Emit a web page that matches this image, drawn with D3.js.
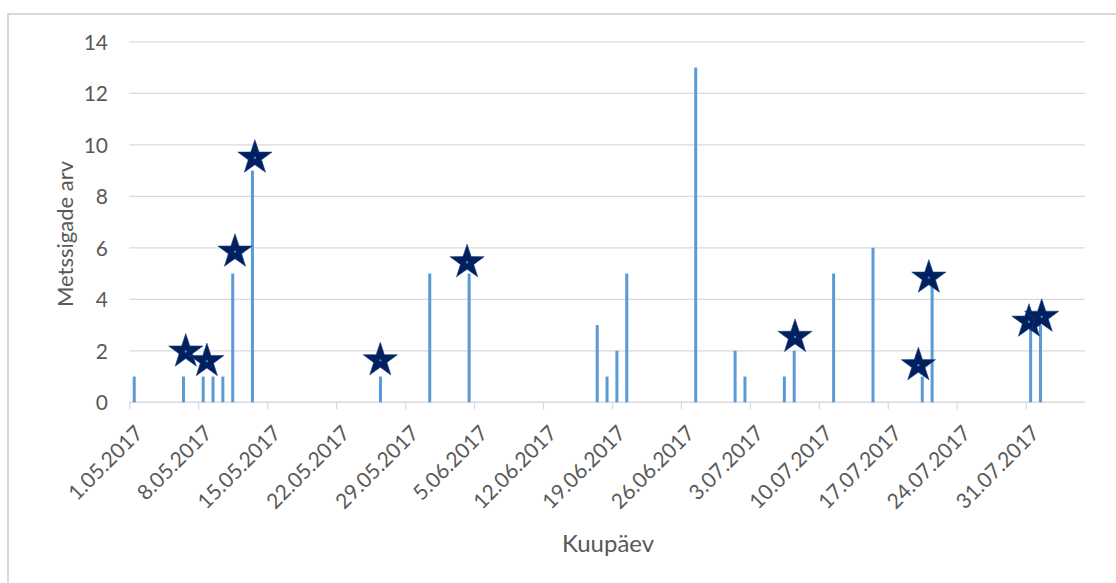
<!DOCTYPE html>
<html>
<head>
<meta charset="utf-8">
<script src="https://cdn.jsdelivr.net/npm/d3@7"></script>
<style>
  html, body { margin: 0; padding: 0; background: #fff; }
  svg { display: block; }
  text { font-family: Lato, "Open Sans", sans-serif; fill: #595959; }
</style>
</head>
<body>
<svg id="chart" width="1116" height="583"></svg>
<script>
// ---- data ----
const barDates = ["2017-05-01","2017-05-06","2017-05-08","2017-05-09","2017-05-10","2017-05-11","2017-05-13",
  "2017-05-26","2017-05-31","2017-06-04","2017-06-17","2017-06-18","2017-06-19","2017-06-20","2017-06-27",
  "2017-07-01","2017-07-02","2017-07-06","2017-07-07","2017-07-11","2017-07-15","2017-07-20","2017-07-21",
  "2017-07-31","2017-08-01"];
const barValues = [1,1,1,1,1,5,9,1,5,5,3,1,2,5,13,2,1,1,2,5,6,1,5,3,3];

const starTimes = ["2017-05-06T17:30","2017-05-08T21:00","2017-05-11T17:30","2017-05-13T18:00","2017-05-26T11:30",
  "2017-06-04T07:00","2017-07-07T14:00","2017-07-20T02:30","2017-07-21T04:00","2017-07-31T08:00","2017-08-01T15:00"];
const starValues = [1.97,1.6,5.85,9.5,1.63,5.44,2.54,1.44,4.84,3.13,3.32];

const tickDates = ["2017-05-01","2017-05-08","2017-05-15","2017-05-22","2017-05-29","2017-06-05","2017-06-12",
  "2017-06-19","2017-06-26","2017-07-03","2017-07-10","2017-07-17","2017-07-24","2017-07-31"];
const yTicks = [0,2,4,6,8,10,12,14];
const xDomain = ["2017-05-01","2017-08-06"];
const xTitle = "Kuupäev";
const yTitle = "Metssigade arv";

// ---- drawing ----
const parseDay = d3.timeParse("%Y-%m-%d");
const parseTime = d3.timeParse("%Y-%m-%dT%H:%M");
const fmt = d3.timeFormat("%-d.%m.%Y");

const svg = d3.select("#chart");
const pLeft = 129.3, pRight = 1084.8, pTop = 41.8, pBottom = 402.3;

const x = d3.scaleTime().domain(xDomain.map(parseDay)).range([pLeft, pRight]);
const y = d3.scaleLinear().domain([0, 14]).range([pBottom, pTop]);

// outer chart border
svg.append("rect").attr("x", 8).attr("y", 14).attr("width", 1200).attr("height", 700)
  .attr("fill", "none").attr("stroke", "#d9d9d9").attr("stroke-width", 2);

// gridlines
svg.append("g").selectAll("line").data(yTicks.filter(v => v > 0)).join("line")
  .attr("x1", pLeft).attr("x2", pRight)
  .attr("y1", d => y(d)).attr("y2", d => y(d))
  .attr("stroke", "#d9d9d9").attr("stroke-width", 1.2);

// y axis labels
const yAxis = d3.axisLeft(y).tickValues(yTicks).tickSize(0).tickPadding(0);
const gy = svg.append("g").attr("transform", "translate(108,0)").call(yAxis);
gy.select(".domain").remove();
gy.selectAll("text").attr("fill", "#595959").style("font-size", "21px").style("font-family", "Lato, sans-serif").attr("dy", "0.35em");

// x axis
const ticks = tickDates.map(parseDay);
const xAxis = d3.axisBottom(x).tickValues(ticks).tickSize(7).tickFormat("");
const gx = svg.append("g").attr("transform", `translate(0,${pBottom})`).call(xAxis);
gx.select(".domain").attr("stroke", "#d9d9d9").attr("stroke-width", 1.5).attr("d", `M${pLeft},0H${pRight}`);
gx.selectAll(".tick line").attr("stroke", "#d9d9d9").attr("stroke-width", 1.2);

svg.append("g").selectAll("text").data(ticks).join("text")
  .attr("transform", d => `translate(${x(d) + 15},${pBottom + 32}) rotate(-45)`)
  .attr("text-anchor", "end")
  .style("font-size", "21px")
  .text(d => fmt(d));

// bars
const bars = barDates.map((d, i) => ({ date: parseDay(d), value: barValues[i] }));
const bw = 3;
svg.append("g").selectAll("rect").data(bars).join("rect")
  .attr("x", d => x(d3.timeHour.offset(d.date, 12)) - bw / 2)
  .attr("width", bw)
  .attr("y", d => y(d.value))
  .attr("height", d => y(0) - y(d.value))
  .attr("fill", "#5b9bd5");

// stars
const stars = starTimes.map((d, i) => ({ date: parseTime(d), value: starValues[i] }));
const R = 18, r = 7;
const starPts = d3.range(10).map(i => {
  const a = -Math.PI / 2 + i * Math.PI / 5;
  const rr = i % 2 === 0 ? R : r;
  return [rr * Math.cos(a), rr * Math.sin(a)];
});
const starPath = "M" + starPts.map(p => p.join(",")).join("L") + "Z";
const gs = svg.append("g").selectAll("g").data(stars).join("g")
  .attr("transform", d => `translate(${x(d.date)},${y(d.value)})`);
gs.append("path").attr("d", starPath).attr("fill", "#002060")
  .attr("stroke", "#1f3f7a").attr("stroke-width", 0.6).attr("stroke-linejoin", "miter");
gs.append("circle").attr("r", 1.2).attr("fill", "#3d85c6");

// axis titles
svg.append("text").attr("x", 608).attr("y", 552).attr("text-anchor", "middle")
  .style("font-size", "24px").text(xTitle);
svg.append("text").attr("transform", "translate(73,234) rotate(-90)").attr("text-anchor", "middle")
  .style("font-size", "22px").text(yTitle);
</script>
</body>
</html>
